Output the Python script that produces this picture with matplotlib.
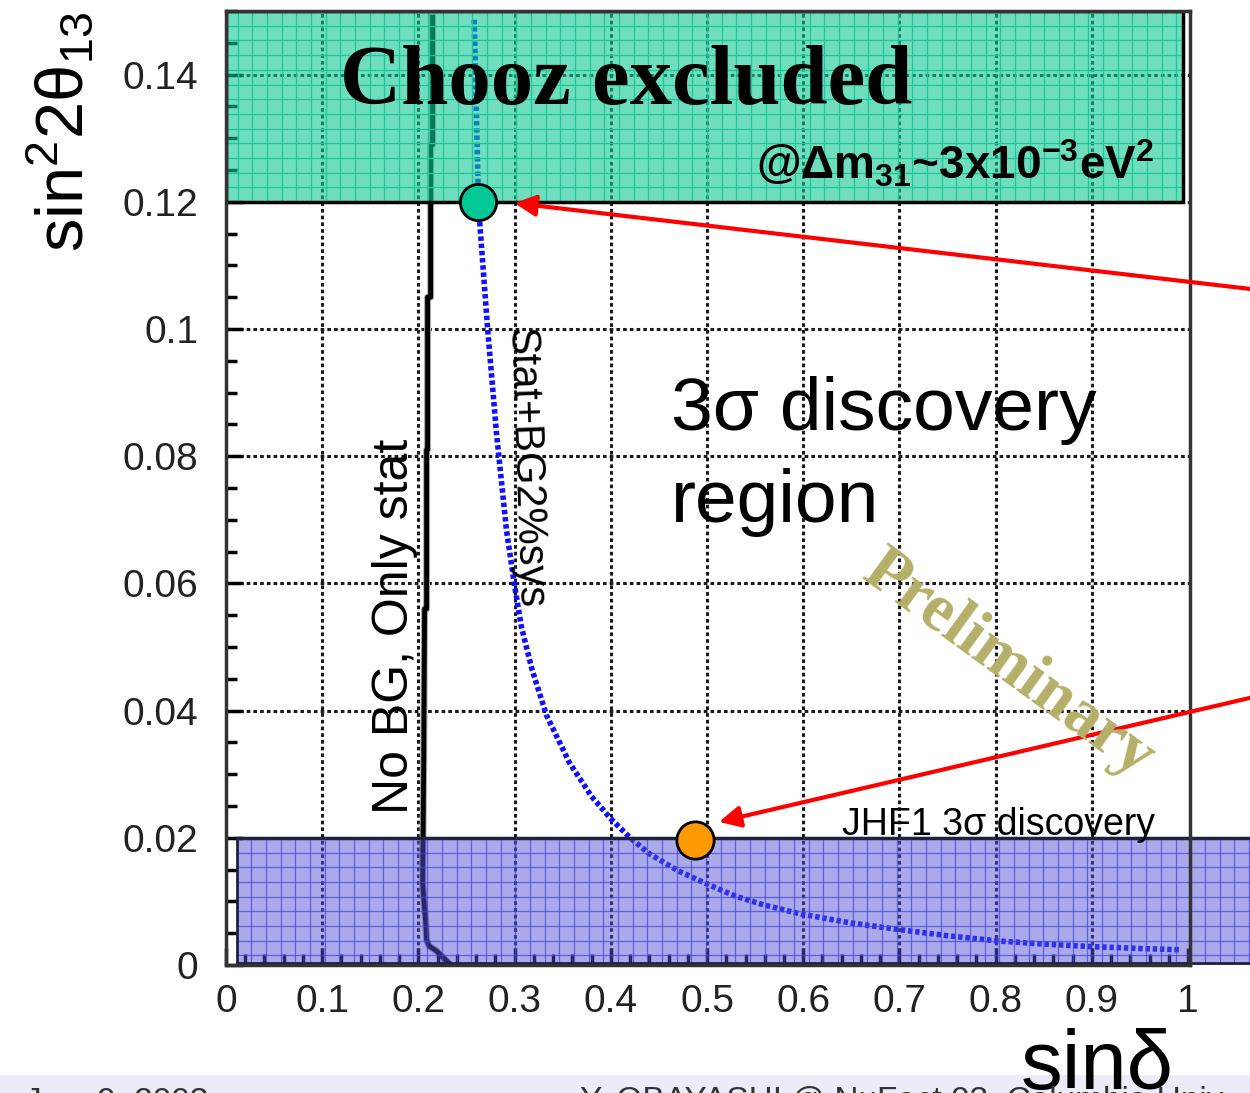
import numpy as np
import matplotlib
matplotlib.use('Agg')
import matplotlib.pyplot as plt
from matplotlib.patches import Rectangle

# curves
stat_x = [0.2147, 0.2147, 0.2127, 0.2127, 0.2095, 0.2095, 0.2085, 0.2085, 0.2064,
          0.2055, 0.2044, 0.2060, 0.2075, 0.2085, 0.2110, 0.2189, 0.2303]
stat_y = [0.149, 0.129, 0.129, 0.105, 0.105, 0.081, 0.081, 0.056, 0.056,
          0.032, 0.013, 0.0095, 0.007, 0.004, 0.003, 0.0022, 0.0005]

sys_x = [0.258, 0.2624, 0.2635, 0.2718, 0.2811, 0.2915, 0.2998, 0.307, 0.318, 0.333,
         0.357, 0.380, 0.400, 0.420, 0.440, 0.470, 0.502, 0.530, 0.560, 0.598, 0.650,
         0.698, 0.750, 0.801, 0.850, 0.898, 0.950, 0.991]
sys_y = [0.1486, 0.12, 0.1172, 0.1003, 0.0837, 0.0684, 0.0598, 0.0532, 0.0465, 0.0393,
         0.0318, 0.0265, 0.0230, 0.0200, 0.0175, 0.0148, 0.0126, 0.0108, 0.0094, 0.0080,
         0.0066, 0.0056, 0.0046, 0.0038, 0.0033, 0.0029, 0.0026, 0.0024]

chooz_limit = 0.12
jhf_limit = 0.02
chooz_point = (0.2624, 0.12)
jhf_point = (0.4876, 0.0197)

x_ticks = [0, 0.1, 0.2, 0.3, 0.4, 0.5, 0.6, 0.7, 0.8, 0.9, 1]
y_ticks = [0, 0.02, 0.04, 0.06, 0.08, 0.1, 0.12, 0.14]

sans = 'Liberation Sans'
serif = 'Liberation Serif'
plt.rcParams['font.family'] = [sans, 'DejaVu Sans']
plt.rcParams['mathtext.fontset'] = 'custom'
plt.rcParams['mathtext.rm'] = sans
plt.rcParams['mathtext.it'] = sans + ':italic'
plt.rcParams['mathtext.bf'] = sans + ':bold'

W, H = 1250, 1093
fig = plt.figure(figsize=(W / 100, H / 100), dpi=100)
ax = fig.add_axes([226 / W, (H - 965) / H, (1190 - 226) / W, (965 - 11) / H])
ax.set_xlim(0, 1.002)
ax.set_ylim(0, 0.15)

# grid
for xv in x_ticks[1:-1]:
    ax.axvline(xv, color='#1a1a1a', lw=2.2, ls=(0, (1.2, 1.0)), zorder=0.5)
for yv in y_ticks[1:]:
    ax.axhline(yv, color='#1a1a1a', lw=2.2, ls=(0, (1.2, 1.0)), zorder=0.5)

# curves
ax.plot(stat_x, stat_y, color='#aaaaaa', lw=5, zorder=1.4)
ax.plot(stat_x, stat_y, color='black', lw=3.5, zorder=1.5)
ax.plot(sys_x, sys_y, color='#1010ff', lw=4, ls=(0, (0.8, 0.5)), zorder=1.5)

# Chooz excluded box
dx = 14.7 / 964
dy = 14.7 / 6360
ax.add_patch(Rectangle((0, chooz_limit), 0.995, 0.15 - chooz_limit,
                       facecolor=(13 / 255, 200 / 255, 147 / 255), alpha=0.6,
                       edgecolor='none', zorder=2))
for xv in np.arange(0.012, 0.995, dx):
    ax.plot([xv, xv], [chooz_limit, 0.15], color='#1cc79a', lw=0.9, zorder=2.1)
for yv in np.arange(0.15 - dy, chooz_limit, -dy):
    ax.plot([0, 0.995], [yv, yv], color='#1cc79a', lw=0.9, zorder=2.1)
ax.add_patch(Rectangle((0, chooz_limit), 0.995, 0.15 - chooz_limit,
                       facecolor='none', edgecolor='black', lw=2.5, zorder=2.2))

# JHF1 band
x0, x1 = 0.011, 1.08
ax.add_patch(Rectangle((x0, 0), x1 - x0, jhf_limit, facecolor=(82 / 255, 82 / 255, 214 / 255),
                       alpha=0.49, edgecolor='none', zorder=2, clip_on=False))
for xv in np.arange(x0 + dx, x1, dx):
    ax.plot([xv, xv], [0.0003, jhf_limit], color='#4040e0', lw=0.9, alpha=0.7,
            zorder=2.1, clip_on=False)
for yv in np.arange(jhf_limit - dy, 0.0005, -dy):
    ax.plot([x0, x1], [yv, yv], color='#4040e0', lw=0.9, alpha=0.7, zorder=2.1, clip_on=False)
ax.plot([x0, x1], [jhf_limit, jhf_limit], color='#202040', lw=2.5, zorder=2.2, clip_on=False)
ax.plot([x0, x1], [0.0003, 0.0003], color='#202040', lw=2, zorder=2.2, clip_on=False)
ax.plot([x0, x0], [0, jhf_limit], color='#202040', lw=2, zorder=2.2)

# markers
ax.scatter([chooz_point[0]], [chooz_point[1]], s=680, color='#00c896', edgecolor='black',
           lw=2, zorder=3, clip_on=False)
ax.scatter([jhf_point[0]], [jhf_point[1]], s=720, color='#ff9900', edgecolor='black',
           lw=2, zorder=3, clip_on=False)

# arrows
arrow = dict(arrowstyle='-|>', color='red', lw=3, mutation_scale=32, shrinkA=0, shrinkB=0)
ax.annotate('', xy=(0.2998, 0.1198), xytext=(1.07, 0.1062), arrowprops=arrow,
            annotation_clip=False, zorder=4)
ax.annotate('', xy=(0.5124, 0.0225), xytext=(1.07, 0.0422), arrowprops=arrow,
            annotation_clip=False, zorder=4)

# texts
ax.text(0.118, 0.1353, 'Chooz excluded', family=serif, fontweight='bold', fontsize=61,
        va='baseline', ha='left', zorder=5)
ax.text(0.551, 0.1235, r'@Δm$\mathbf{_{31}}$~3x10$\mathbf{^{-3}}$eV$\mathbf{^{2}}$',
        fontweight='bold', fontsize=33, va='baseline', ha='left', zorder=5)
ax.text(0.4627, 0.0841, '3σ discovery', fontsize=54, va='baseline', ha='left', zorder=5)
ax.text(0.4627, 0.0697, 'region', fontsize=54, va='baseline', ha='left', zorder=5)
ax.text(0.640, 0.0204, 'JHF1 3σ discovery', fontsize=27, va='baseline', ha='left', zorder=5)
ax.text(0.311, 0.0782, 'Stat+BG2%sys', fontsize=30, rotation=-88, va='center', ha='center',
        zorder=5)
ax.text(0.1753, 0.0532, 'No BG, Only stat', fontsize=36, rotation=90, va='center',
        ha='center', zorder=5)
ax.text(0.813, 0.0472, 'Preliminary', family=serif, fontweight='bold', fontsize=48,
        color='#b5b068', rotation=-36, va='center', ha='center', zorder=5)

# axes styling
ax.set_xticks(x_ticks)
ax.set_xticklabels(['%g' % v for v in x_ticks])
ax.set_yticks(y_ticks)
ax.set_yticklabels(['%g' % v for v in y_ticks])
ax.set_xticks(np.arange(0, 1.001, 0.02), minor=True)
ax.set_yticks(np.arange(0, 0.1501, 0.005), minor=True)
ax.tick_params(axis='both', which='both', direction='in', top=False, right=False, width=2.5)
ax.tick_params(axis='both', which='major', length=12)
ax.tick_params(axis='both', which='minor', length=8)
ax.tick_params(axis='x', labelsize=28, pad=14, labelcolor='#222222')
ax.tick_params(axis='y', labelsize=28, pad=20, labelcolor='#222222')
for s in ax.spines.values():
    s.set_linewidth(2.5)
    s.set_color('#333333')

fig.text(0.0496, 0.879, r'sin$^2$2θ$_{13}$', fontsize=48, rotation=90,
         va='center', ha='center')
fig.text(0.878, 0.004, 'sinδ', fontsize=60, va='baseline', ha='center')

# slide footer
fig.patches.append(Rectangle((0, 0), 1, 18 / H, transform=fig.transFigure,
                             facecolor='#ececf8', edgecolor='none', zorder=-1))
fig.text(25 / W, -0.016, 'Jun. 9, 2003', fontsize=24, va='baseline', color='#333333')
fig.text(580 / W, -0.016, 'Y. OBAYASHI @ NuFact 03, Columbia Univ., NY', fontsize=24,
         va='baseline', color='#333333')

fig.savefig('out.png', dpi=100)
